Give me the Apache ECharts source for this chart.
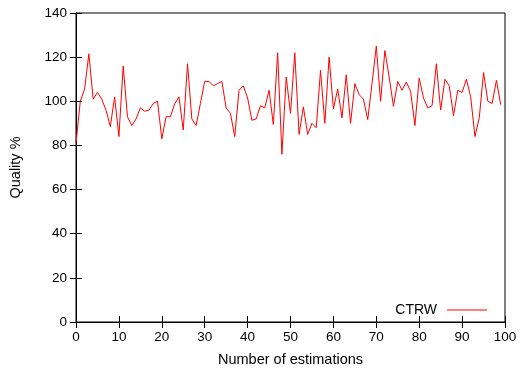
<!DOCTYPE html>
<html>
<head>
<meta charset="utf-8">
<script src="https://cdn.jsdelivr.net/npm/echarts@6/dist/echarts.min.js"></script>
<style>html,body{margin:0;padding:0;background:#fff}#c{width:520px;height:368px}</style>
</head>
<body>
<div id="c"></div>
<script>
var xTicks = [0, 10, 20, 30, 40, 50, 60, 70, 80, 90, 100];
var yTicks = [0, 20, 40, 60, 80, 100, 120, 140];
var seriesName = 'CTRW';
var estimations = [];
for (var k = 0; k < 100; k++) estimations.push(k);
var quality = [
  81, 100, 105.5, 121.5, 101, 104, 101, 96, 88.5, 102,
  84, 116, 93, 89, 92, 97, 95.5, 96, 99, 100,
  83, 93, 93, 98.8, 102, 87, 117, 92, 89, 99,
  109, 109, 107, 108, 109, 97, 94.5, 84, 105, 107,
  101.5, 91.4, 92, 98, 97, 105, 89.5, 122, 76, 111,
  94.5, 122, 85, 97.5, 85, 90, 88, 114, 90, 120,
  96.5, 105.6, 92.5, 112, 90, 108, 103, 101, 91.7, 108,
  125, 100, 123, 111, 97.7, 109, 105, 108.7, 104.5, 89,
  110.5, 101.5, 97, 98, 117, 96, 110, 107, 93.5, 105,
  104, 110, 102, 84, 92.5, 113, 100, 99, 109.5, 98.5
];
var data = estimations.map(function (x, i) { return [x, quality[i]]; });

var font = 'Liberation Sans, Arial, sans-serif';
var nameTxt = { color: '#000', fontFamily: font, fontSize: 14.5 };
var lineS = { show: true, lineStyle: { color: '#000', width: 1 } };
var tickS = { show: true, inside: true, length: 6, lineStyle: { color: '#000', width: 1 } };

var chart = echarts.init(document.getElementById('c'), null, { renderer: 'canvas' });
chart.setOption({
  animation: false,
  backgroundColor: '#fff',
  grid: { left: 76, right: 15, top: 13, bottom: 46, containLabel: false, outerBoundsMode: 'none',
          show: true, borderColor: '#000', borderWidth: 1 },
  legend: {
    data: [{ name: seriesName, icon: 'rect' }],
    right: 28, top: 298, align: 'right',
    itemWidth: 40, itemHeight: 1.2,
    textStyle: { color: '#000', fontFamily: font, fontSize: 14, padding: [0, 5, 0, 0] }
  },
  xAxis: [{
    type: 'value', min: 0, max: 100, interval: 10,
    name: 'Number of estimations', nameLocation: 'middle', nameGap: 30,
    nameTextStyle: nameTxt,
    axisLine: lineS, axisTick: tickS, splitLine: { show: false },
    axisLabel: { color: '#000', fontFamily: font, fontSize: 13.5, margin: 8 }
  }, {
    type: 'value', min: 0, max: 100, interval: 10, position: 'top',
    axisLine: lineS, axisTick: tickS, splitLine: { show: false },
    axisLabel: { show: false }
  }],
  yAxis: [{
    type: 'value', min: 0, max: 140, interval: 20,
    name: 'Quality %', nameLocation: 'middle', nameGap: 53,
    nameTextStyle: nameTxt,
    axisLine: lineS, axisTick: tickS, splitLine: { show: false },
    axisLabel: { color: '#000', fontFamily: font, fontSize: 13.5, margin: 9 }
  }, {
    type: 'value', min: 0, max: 140, interval: 20, position: 'right',
    axisLine: lineS, axisTick: tickS, splitLine: { show: false },
    axisLabel: { show: false }
  }],
  series: [{
    name: seriesName, type: 'line', data: data,
    xAxisIndex: 0, yAxisIndex: 0,
    showSymbol: false, symbol: 'none',
    itemStyle: { color: '#ff0000' },
    lineStyle: { color: '#ff0000', width: 1 }
  }]
});
</script>
</body>
</html>
